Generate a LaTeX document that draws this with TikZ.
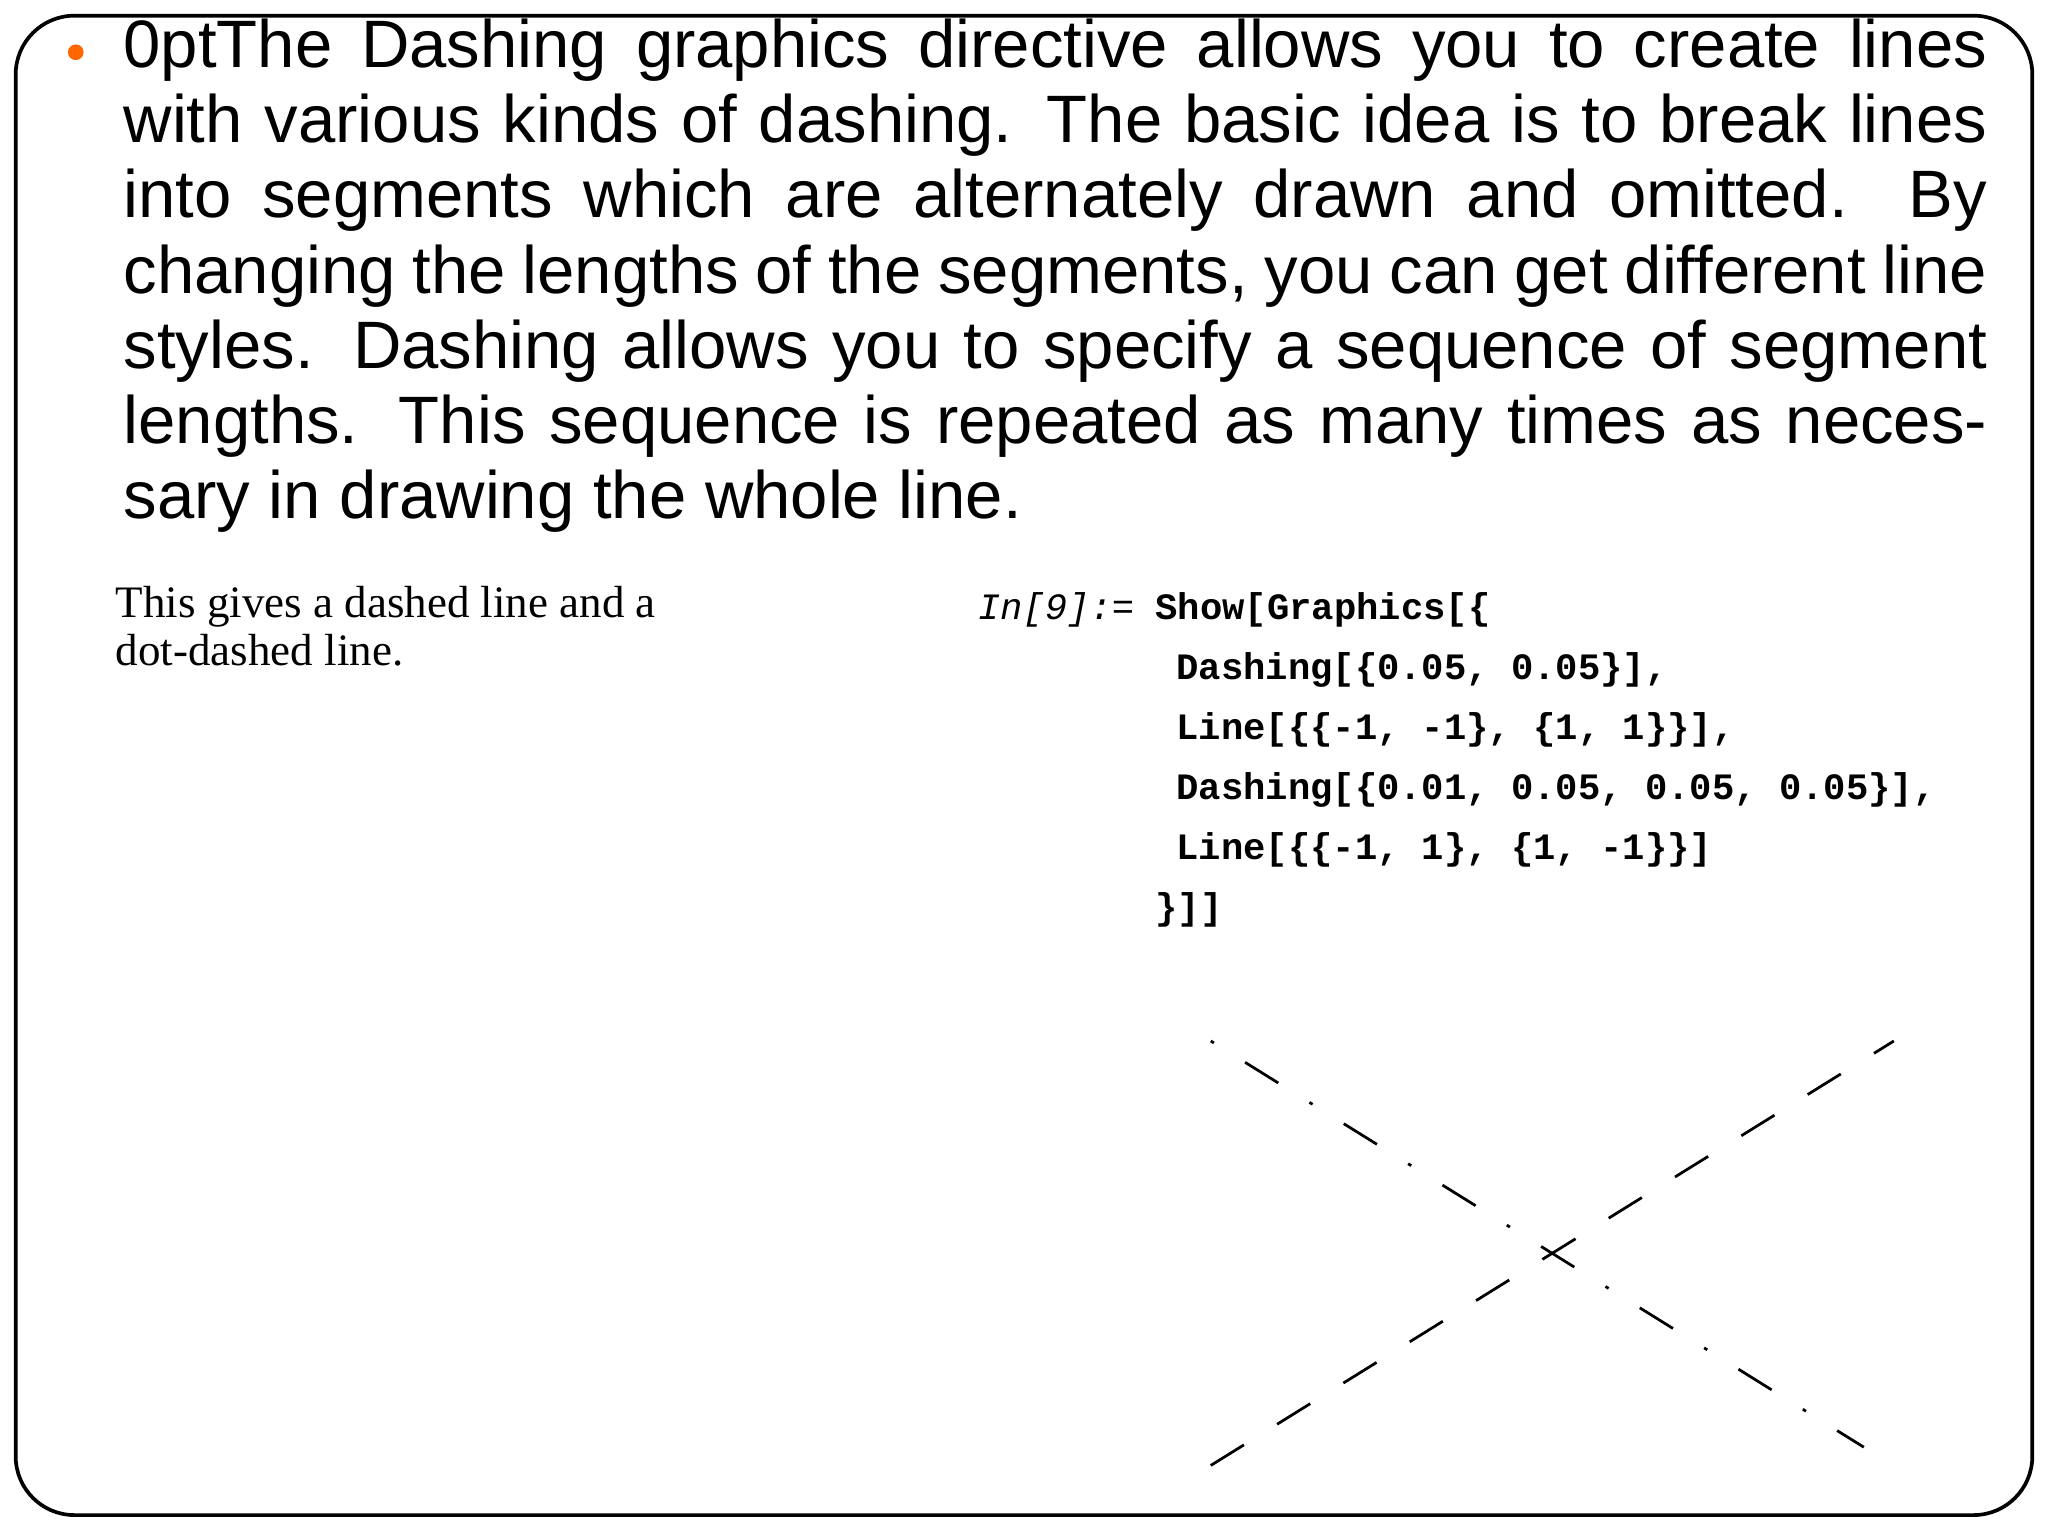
\documentclass[tikz,border=0pt]{standalone}
\usepackage{fontspec}
\setmainfont{Liberation Sans}
\newfontfamily\capfont{Liberation Serif}
\newfontfamily\codefont{Liberation Mono}
\begin{document}
\begin{tikzpicture}[x=0.01cm,y=-0.01cm,
  body/.style={anchor=north west,inner sep=0pt,text width=14.26cm,align=justify,font=\fontsize{14.6pt}{16.35pt}\selectfont\hyphenpenalty=10000\exhyphenpenalty=10000\frenchspacing},
  captext/.style={anchor=north west,inner sep=0pt,align=left,font=\capfont\fontsize{9.8pt}{10.6pt}\selectfont},
  code/.style={anchor=base west,inner sep=0pt,font=\codefont\bfseries\fontsize{8.1pt}{8.1pt}\selectfont},
  plotline/.style={line width=0.6pt}]
\useasboundingbox (0,0) rectangle (1568,1176);
\draw[line width=0.8pt,rounded corners=0.45cm] (12,12) rectangle (1556,1160);
\fill[orange!80!red] (58,40) circle (6);
\node[body] (txt) at (94,14) {The Dashing graphics directive allows you to create lines with various kinds of dashing. The basic idea is to break lines into segments which are alternately drawn and omitted. By changing the lengths of the segments, you can get different line styles. Dashing allows you to specify a sequence of segment lengths. This sequence is repeated as many times as necessary in drawing the whole line.};
\node[captext] (c1) at (88,448) {This gives a dashed line and a\\dot-dashed line.};
\node[code,font=\codefont\itshape\fontsize{8.1pt}{8.1pt}\selectfont] (in) at (748,474) {In[9]:=};
\node[code] (l0) at (884,474) {Show[Graphics[\{};
\node[code] (l1) at (900,520) {Dashing[\{0.05, 0.05\}],};
\node[code] (l2) at (900,566) {Line[\{\{-1, -1\}, \{1, 1\}\}],};
\node[code] (l3) at (900,612) {Dashing[\{0.01, 0.05, 0.05, 0.05\}],};
\node[code] (l4) at (900,658) {Line[\{\{-1, 1\}, \{1, -1\}\}]};
\node[code] (l5) at (884,704) {\}]]};
\coordinate (a1) at (927,1122); \coordinate (a2) at (1450,797);
\coordinate (b1) at (927,797); \coordinate (b2) at (1427,1108);
\draw[plotline,dash pattern=on 8.5pt off 8.5pt] (a1) -- (a2);
\draw[plotline,dash pattern=on 0.8pt off 8pt on 8.5pt off 8pt] (b1) -- (b2);
\end{tikzpicture}
\end{document}
